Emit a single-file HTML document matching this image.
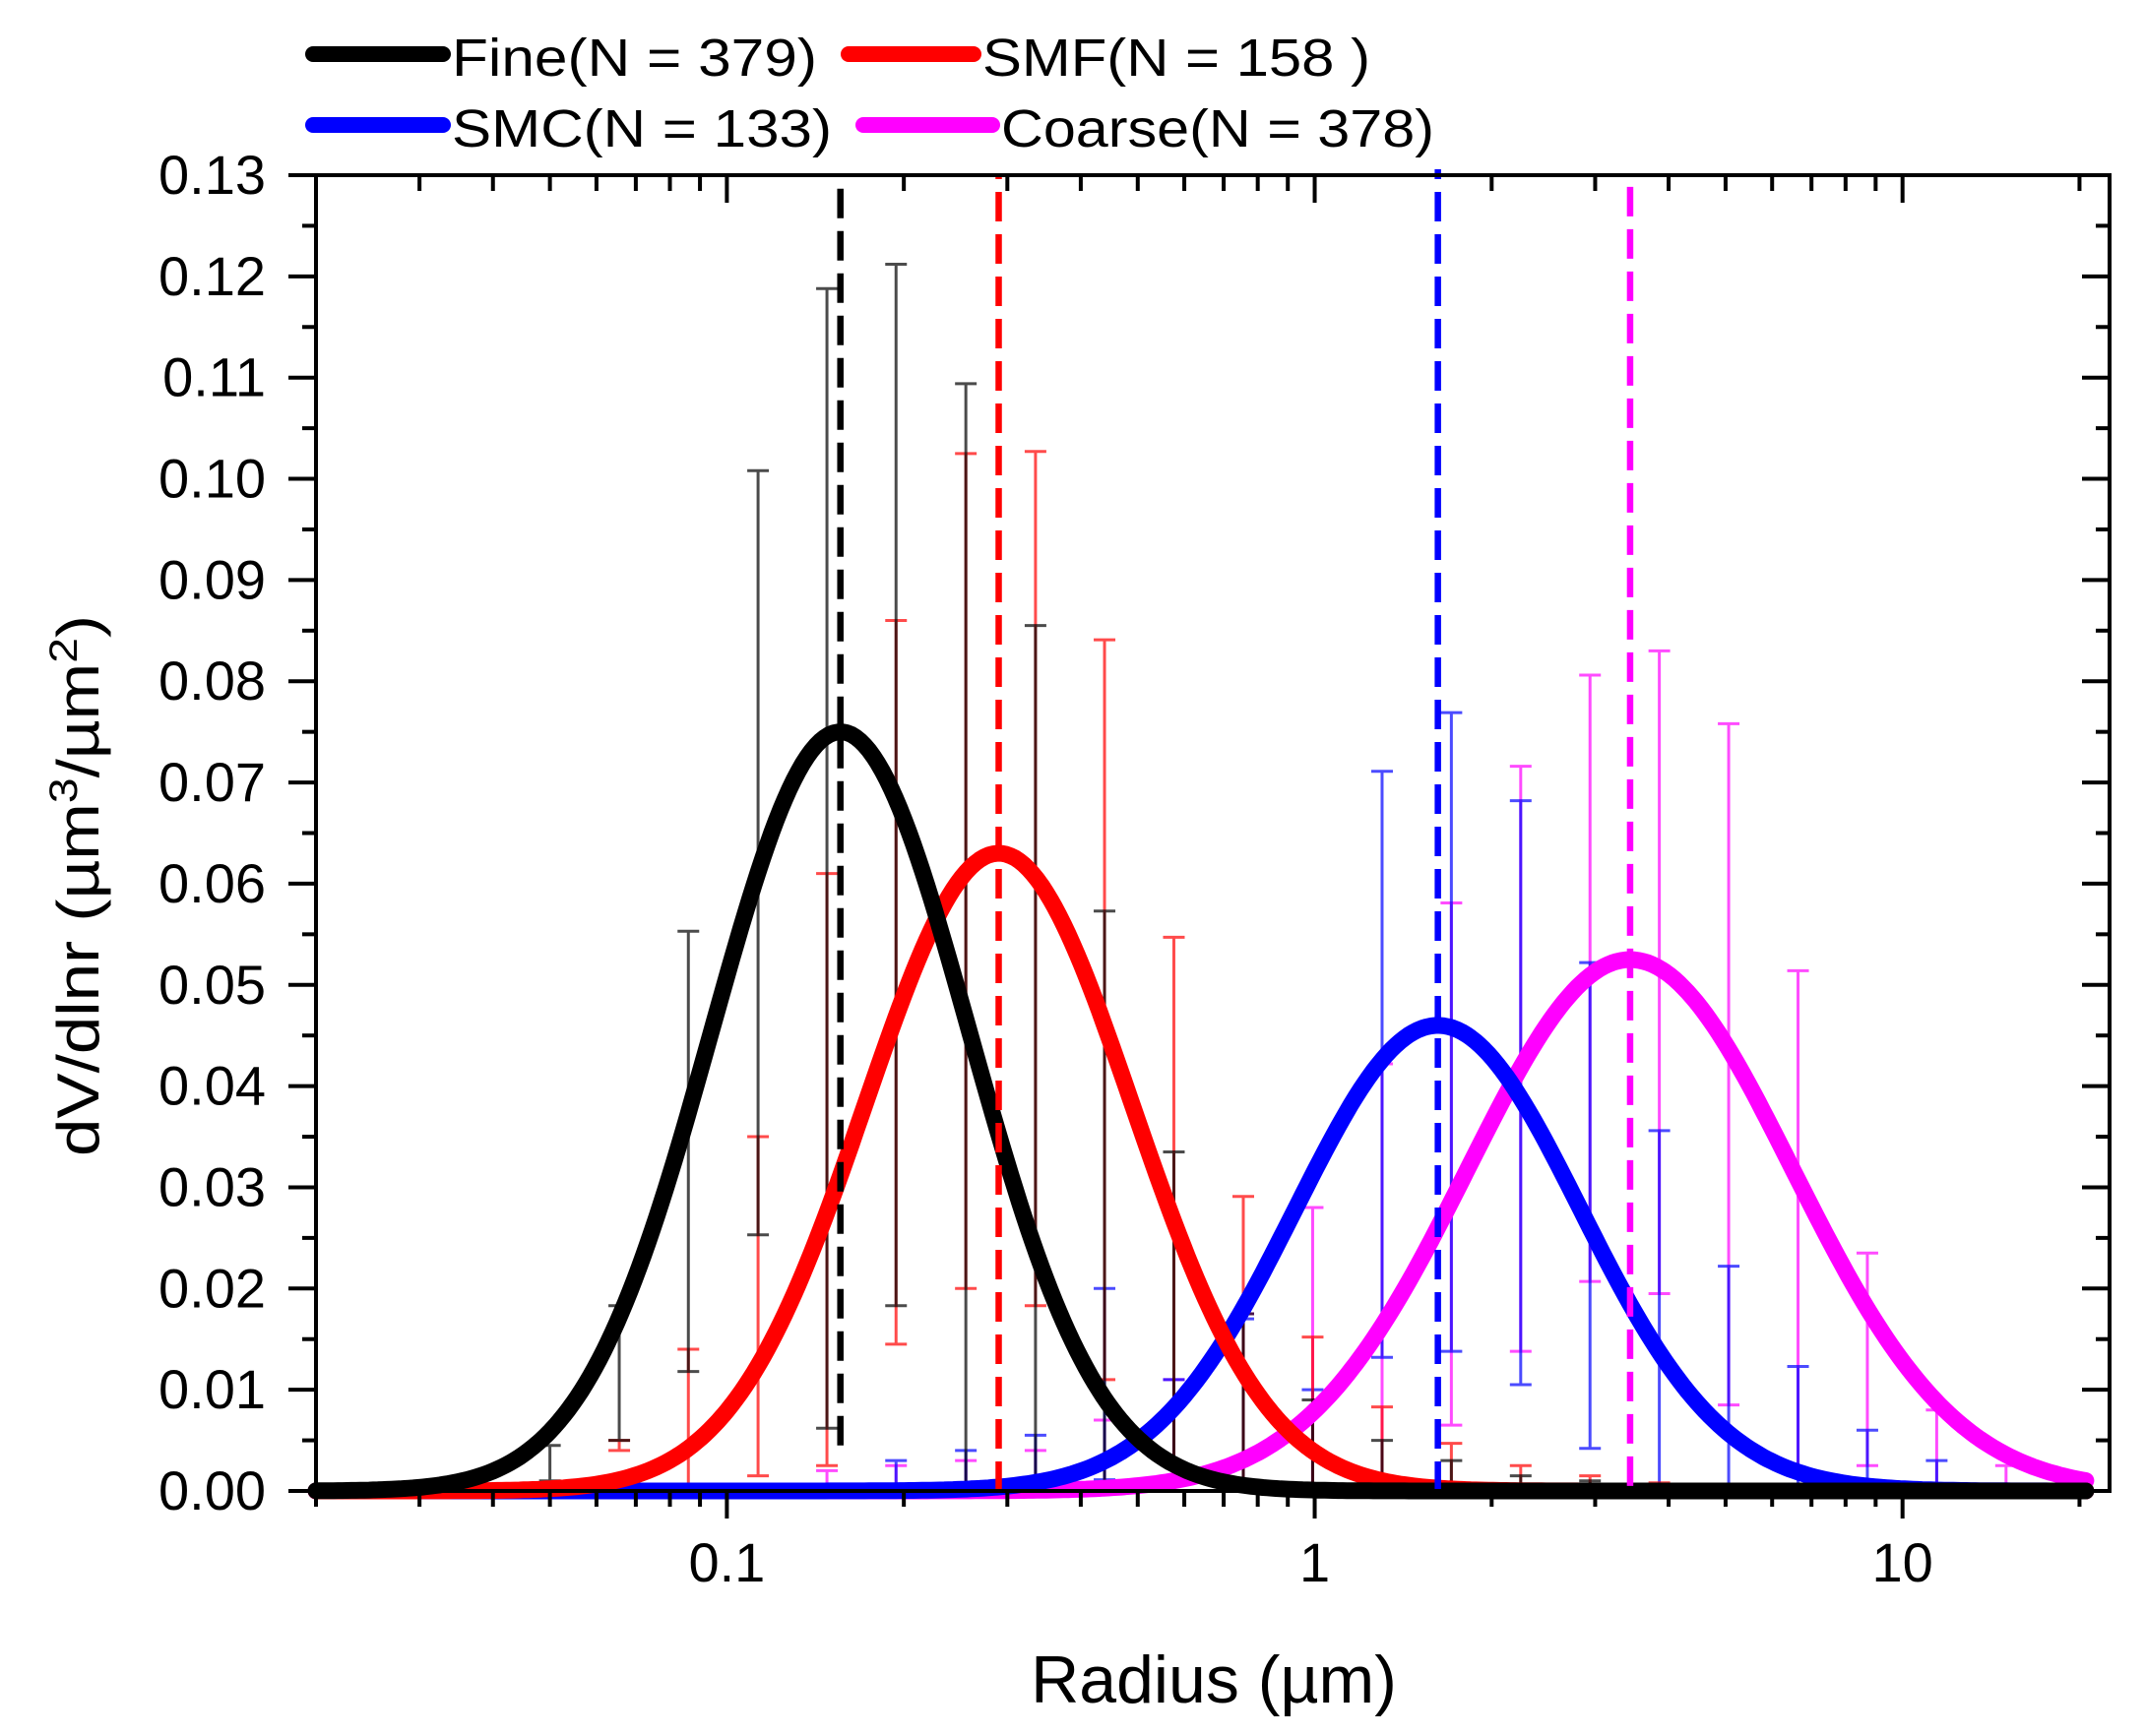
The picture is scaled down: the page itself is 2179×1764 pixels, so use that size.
<!DOCTYPE html>
<html><head><meta charset="utf-8">
<style>
html,body{margin:0;padding:0;background:#fff;}
svg{display:block;font-family:"Liberation Sans",Arial,sans-serif;}
</style></head>
<body>
<svg id="chart" width="2179" height="1764" viewBox="0 0 2179 1764" xmlns="http://www.w3.org/2000/svg">
<rect x="0" y="0" width="2179" height="1764" fill="#fff"/>
<g id="plot"></g>
<g id="axes"></g>
<g id="legend"></g>
<text x="1233" y="1730" font-size="68" text-anchor="middle" fill="#000">Radius (µm)</text>
<text transform="translate(100,900) rotate(-90)" font-size="60" text-anchor="middle" fill="#000" textLength="550" lengthAdjust="spacingAndGlyphs">dV/dlnr (µm<tspan dy="-22" font-size="40">3</tspan><tspan dy="22">/µm</tspan><tspan dy="-22" font-size="40">2</tspan><tspan dy="22">)</tspan></text>
</svg>
<script>
// ---- data ----
const seriesNames = ["Fine(N = 379)", "SMF(N = 158 )", "SMC(N = 133)", "Coarse(N = 378)"];
const seriesColors = ["#000000", "#ff0000", "#0000ff", "#ff00ff"];
const curvePeak = [0.075, 0.063, 0.046, 0.0525];
const curveMedian = [0.156, 0.29, 1.62, 3.44];
const curveSigmaLog10 = [0.219, 0.227, 0.242, 0.276];
const dashedBottom = [0.0045, 0, 0, 0.0005];
const binRadius = [0.05,0.0656,0.086,0.113,0.148,0.194,0.255,0.335,0.439,0.576,0.756,0.992,1.302,1.708,2.241,2.94,3.857,5.061,6.641,8.713,11.432,15.0];
const fineTop = [0.0045,0.0183,0.0553,0.1008,0.1188,0.1212,0.1094,0.0855,0.0573,0.0335,0.0175,0.009,0.005,0.003,0.0015,0.001,0.0005,null,null,null,null,null];
const fineLow = [0.001,0.005,0.0118,0.0253,0.0062,0.0183,0.0,0.0,0.0,0.0,0.0,0.0,0.0,0.0,0.0,0.0,0.0,null,null,null,null,null];
const smfTop = [null,0.005,0.014,0.035,0.061,0.086,0.1025,0.1027,0.0841,0.0547,0.0291,0.0152,0.0083,0.0047,0.0025,0.0015,0.0008,null,null,null,null,null];
const smfLow = [null,0.004,0.0,0.0015,0.0025,0.0145,0.020,0.0183,0.011,0.0,0.0,0.0,0.0,0.0,0.0,0.0,0.0,null,null,null,null,null];
const smcTop = [null,null,null,null,null,0.003,0.004,0.0055,0.020,0.011,0.017,0.010,0.0711,0.0769,0.0682,0.0522,0.0356,0.0222,0.0123,0.006,0.003,null];
const smcLow = [null,null,null,null,null,0.0,0.0,0.0,0.0011,0.0,0.0,0.0,0.0132,0.0138,0.0105,0.0042,0.0,0.0,0.0,0.0,0.0,null];
const coarseTop = [null,null,null,null,0.002,0.0025,0.003,0.004,0.007,0.011,0.0175,0.028,0.0422,0.0581,0.0716,0.0806,0.083,0.0758,0.0514,0.0235,0.008,0.0025];
const coarseLow = [null,null,null,null,0.0,0.0,0.0,0.0,0.0,0.0,0.0,0.0,0.0008,0.0065,0.0138,0.0207,0.0195,0.0085,0.0018,0.0025,0.0,0.0];
const yTickLabels = ["0.00","0.01","0.02","0.03","0.04","0.05","0.06","0.07","0.08","0.09","0.10","0.11","0.12","0.13"];
const xTickValues = [0.1, 1, 10];
const xTickLabels = ["0.1", "1", "10"];

// ---- layout ----
const L = 321, R = 2143, T = 178, B = 1515;
const XMIN = 0.02, XMAX = 22.5, YMAX = 0.13;
const NS = "http://www.w3.org/2000/svg";
function xs(v){ return L + (Math.log10(v) - Math.log10(XMIN)) / (Math.log10(XMAX) - Math.log10(XMIN)) * (R - L); }
function ys(v){ return B - v / YMAX * (B - T); }
function mk(tag, attrs, parent){ const e = document.createElementNS(NS, tag); for (const k in attrs) e.setAttribute(k, attrs[k]); parent.appendChild(e); return e; }
const plot = document.getElementById('plot');
const axes = document.getElementById('axes');
const legend = document.getElementById('legend');

// error bars
const tops = [fineTop, smfTop, smcTop, coarseTop];
const lows = [fineLow, smfLow, smcLow, coarseLow];
const barOrder = [3, 2, 1, 0];
barOrder.forEach(function(s){
  binRadius.forEach(function(r, i){
    const t = tops[s][i], lo = lows[s][i];
    if (t === null || lo === null) return;
    const x = xs(r), y1 = ys(t), y2 = ys(lo);
    const g = mk('g', {stroke: seriesColors[s], 'stroke-width': 3, opacity: 0.7}, plot);
    
    
    mk('line', {x1: x, x2: x, y1: y1, y2: y2}, g);
    mk('line', {x1: x - 11, x2: x + 11, y1: y1, y2: y1}, g);
    mk('line', {x1: x - 11, x2: x + 11, y1: y2, y2: y2}, g);
  });
});

// curves
[3, 2, 1, 0].forEach(function(s){
  let d = '';
  const n = 400, a = Math.log10(XMIN), b = Math.log10(20.5);
  for (let k = 0; k <= n; k++){
    const lr = a + (b - a) * k / n;
    const z = (lr - Math.log10(curveMedian[s])) / curveSigmaLog10[s];
    const v = curvePeak[s] * Math.exp(-0.5 * z * z);
    d += (k ? 'L' : 'M') + xs(Math.pow(10, lr)).toFixed(1) + ',' + ys(v).toFixed(1);
  }
  const p = mk('path', {d: d, fill: 'none', stroke: seriesColors[s], 'stroke-width': 17, 'stroke-linejoin': 'round', 'stroke-linecap': 'round'}, plot);
  
  
});

// dashed median lines
[0, 1, 2, 3].forEach(function(s){
  const x = xs(curveMedian[s]);
  const ln = mk('line', {x1: x, x2: x, y1: ys(dashedBottom[s]), y2: T - (s === 2 ? 6 : 0), stroke: seriesColors[s], 'stroke-width': 6.5, 'stroke-dasharray': '30 13'}, plot);
  
  
});

// axes frame
const frame = mk('rect', {x: L, y: T, width: R - L, height: B - T, fill: 'none', stroke: '#000', 'stroke-width': 4}, axes);



// y ticks
for (let i = 0; i <= 26; i++){
  const y = ys(i * 0.005), major = i % 2 === 0, len = major ? 28 : 14;
  mk('line', {x1: L - len, x2: L, y1: y, y2: y, stroke: '#000', 'stroke-width': 4}, axes);
  mk('line', {x1: R - len, x2: R, y1: y, y2: y, stroke: '#000', 'stroke-width': 4}, axes);
}
yTickLabels.forEach(function(lab, i){
  const t = mk('text', {x: 270, y: ys(i * 0.01) + 19, 'font-size': 56, 'text-anchor': 'end', fill: '#000'}, axes);
  t.textContent = lab;
  
  
});

// x ticks
for (let e = -2; e <= 1; e++){
  for (let m = 1; m <= 9; m++){
    const v = m * Math.pow(10, e);
    if (v < XMIN - 1e-9 || v > XMAX) continue;
    const x = xs(v), major = m === 1, len = major ? 28 : 16;
    mk('line', {x1: x, x2: x, y1: B, y2: B + len, stroke: '#000', 'stroke-width': 4}, axes);
    mk('line', {x1: x, x2: x, y1: T, y2: T + len, stroke: '#000', 'stroke-width': 4}, axes);
  }
}
xTickValues.forEach(function(v, i){
  const t = mk('text', {x: xs(v), y: 1607, 'font-size': 56, 'text-anchor': 'middle', fill: '#000'}, axes);
  t.textContent = xTickLabels[i];
  
  
});

// legend
const legPos = [[311, 457, 55, 371], [855, 996, 55, 394], [311, 457, 127, 386], [870, 1015, 127, 440]];
seriesNames.forEach(function(name, s){
  const p = legPos[s];
  const g = mk('g', {}, legend);
  
  
  mk('line', {x1: p[0] + 7, x2: p[1] - 7, y1: p[2], y2: p[2], stroke: seriesColors[s], 'stroke-width': 16, 'stroke-linecap': 'round'}, g);
  const t = mk('text', {x: p[1] + 2, y: p[2] + 22, 'font-size': 54, fill: '#000', textLength: p[3], lengthAdjust: 'spacingAndGlyphs'}, g);
  t.textContent = name;
});
</script>
</body></html>
